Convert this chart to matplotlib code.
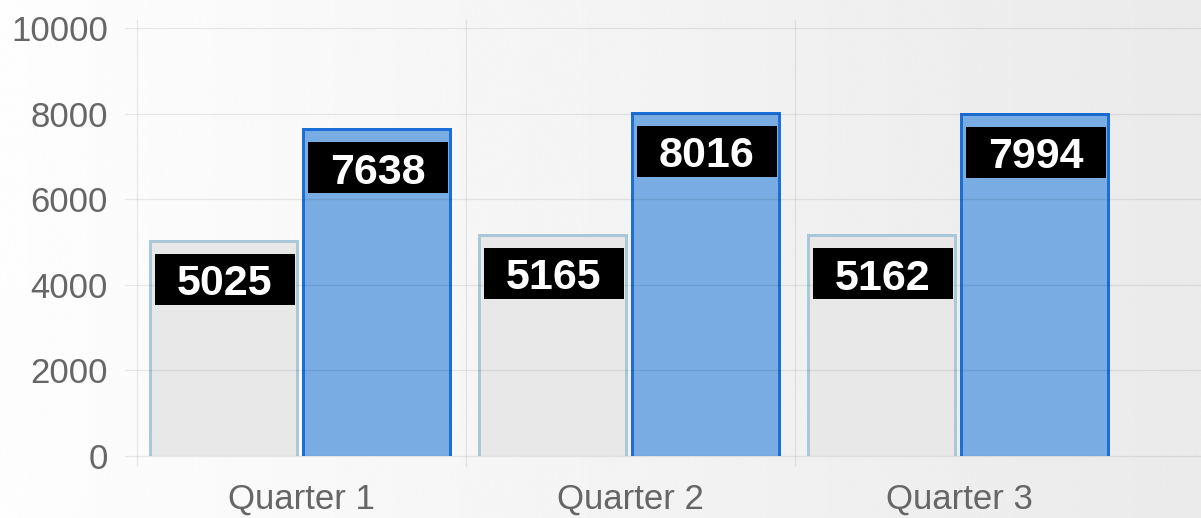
import numpy as np
import matplotlib
matplotlib.use("Agg")
import matplotlib.pyplot as plt
from matplotlib import transforms
from matplotlib.patches import Rectangle

# Data
quarters = ["Quarter 1", "Quarter 2", "Quarter 3"]
series_a = [5025, 5165, 5162]
series_b = [7638, 8016, 7994]
y_ticks = [0, 2000, 4000, 6000, 8000, 10000]

W, H, DPI = 1201, 518, 100
PX = 72.0 / DPI  # points per pixel

fig = plt.figure(figsize=(W / DPI, H / DPI), dpi=DPI)

# soft horizontal background gradient
bg = fig.add_axes([0, 0, 1, 1], zorder=-10)
grad = np.linspace(0.994, 0.918, 512)[None, :]
bg.imshow(grad, cmap="gray", vmin=0, vmax=1, aspect="auto",
          extent=[0, 1, 0, 1], interpolation="bicubic")
bg.set_axis_off()

left_px, bottom_px, top_px = 137, 456, 28
cat_px = 329.0
ax = fig.add_axes([left_px / W, (H - bottom_px) / H,
                   (W - left_px) / W, (bottom_px - top_px) / H])
ax.set_facecolor("none")
ax.set_xlim(-0.5, (W - left_px) / cat_px - 0.5)
ax.set_ylim(0, 10000)
for s in ax.spines.values():
    s.set_visible(False)

grid_kw = dict(color=(0, 0, 0, 0.08), lw=1.3 * PX, zorder=2.5, clip_on=False)

# horizontal grid lines (with short tick stubs on the left)
for yv in y_ticks:
    ax.plot([-12 / (W - left_px), 1.0], [yv, yv],
            transform=transforms.blended_transform_factory(ax.transAxes, ax.transData),
            **grid_kw)

# vertical category separators
ext_top = 1 + 8 / (bottom_px - top_px)
ext_bot = -10 / (bottom_px - top_px)
for xb in np.arange(len(quarters)) - 0.5:
    ax.plot([xb, xb], [ext_bot, ext_top],
            transform=transforms.blended_transform_factory(ax.transData, ax.transAxes),
            **grid_kw)

ax.set_yticks(y_ticks)
ax.set_yticklabels([str(v) for v in y_ticks])
x = np.arange(len(quarters))
ax.set_xticks(x)
ax.set_xticklabels(quarters)
ax.tick_params(axis="y", length=0, pad=29 * PX, labelsize=25, labelcolor="#666666")
ax.tick_params(axis="x", length=0, pad=27 * PX, labelsize=25, labelcolor="#666666")
for lab in ax.get_xticklabels() + ax.get_yticklabels():
    lab.set_fontfamily("Liberation Sans")

bar_w = 147 / cat_px
off_a = -0.237
off_b = 0.228

styles = [
    (series_a, off_a, "#e8e8e8", "#a9c8da"),
    (series_b, off_b, "#78ace2", "#1b6fd6"),
]

for vals, off, fill, edge in styles:
    xs = x + off
    ax.bar(xs, vals, width=bar_w, color=fill, edgecolor="none", zorder=2)
    for xc, v in zip(xs, vals):
        l, r = xc - bar_w / 2, xc + bar_w / 2
        ax.plot([l, l, r, r], [0, v, v, 0], color=edge, lw=3 * PX,
                solid_joinstyle="miter", zorder=2.2)
        # value badge anchored at the top of the bar, sized in inches
        trans = fig.dpi_scale_trans + transforms.ScaledTranslation(xc, v, ax.transData)
        ax.add_patch(Rectangle((-0.69, -0.64), 1.40, 0.51, transform=trans,
                               facecolor="black", edgecolor="none", zorder=3,
                               clip_on=False))
        ax.text(0.01, -0.545, str(v), transform=trans, ha="center", va="baseline",
                color="white", fontsize=31, fontweight="bold",
                fontfamily="Liberation Sans", zorder=4)

fig.savefig("out.png", dpi=DPI)
